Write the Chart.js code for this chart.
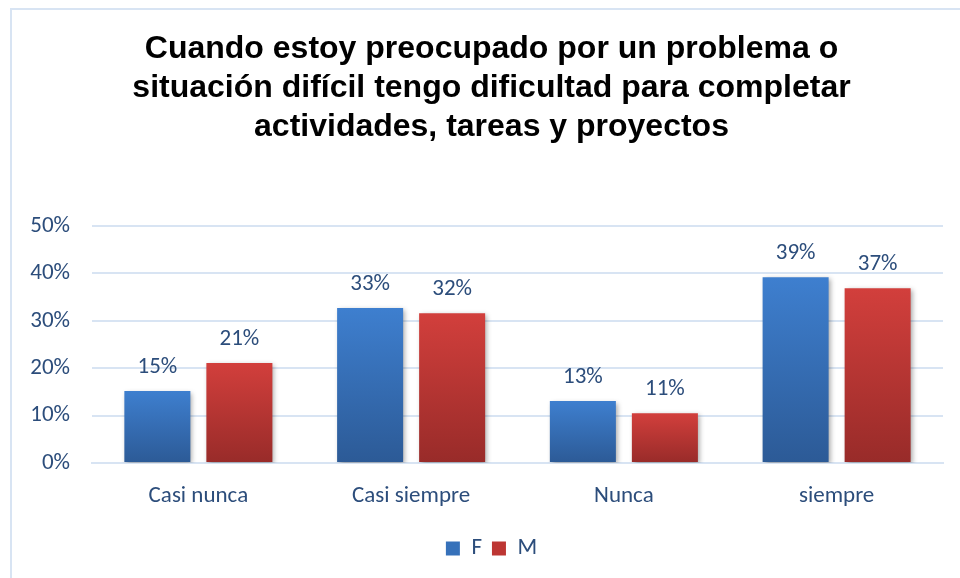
<!DOCTYPE html>
<html>
<head>
<meta charset="utf-8">
<script src="https://cdn.jsdelivr.net/npm/chart.js@4"></script>
<style>
html,body{margin:0;padding:0;background:#fff;}
#wrap{position:relative;width:960px;height:578px;overflow:hidden;}
#frame{position:absolute;left:10px;top:8px;width:980px;height:600px;border:2px solid #D8E4F3;box-sizing:border-box;}
canvas{position:absolute;left:0;top:0;}
</style>
</head>
<body>
<div id="wrap"><div id="frame"></div><canvas id="c" width="960" height="578"></canvas></div>
<script>
const titleLines = ['Cuando estoy preocupado por un problema o', 'situación difícil tengo dificultad para completar', 'actividades, tareas y proyectos'];
const categories = ['Casi nunca', 'Casi siempre', 'Nunca', 'siempre'];
const seriesF = [15.2, 32.7, 13.1, 39.2];
const seriesM = [21.1, 31.6, 10.5, 36.9];
const seriesNames = ['F', 'M'];
const yTicks = [0, 10, 20, 30, 40, 50];

const TXT = '#2C4D7B';
const FONT = 'Carlito, Calibri, Lato, sans-serif';
const FS = 23;

function grad(top, bottom) {
  return function(ctx) {
    const chart = ctx.chart;
    if (!chart.chartArea || ctx.dataIndex === undefined) return top;
    const y = chart.scales.y;
    const v = ctx.dataset.data[ctx.dataIndex];
    const y0 = y.getPixelForValue(v), y1 = y.getPixelForValue(0);
    const g = chart.ctx.createLinearGradient(0, y0, 0, y1);
    g.addColorStop(0, top);
    g.addColorStop(1, bottom);
    return g;
  };
}

const noClipPlugin = {
  id: 'noclip',
  beforeDraw(chart) {
    if (chart.scales.y) chart.scales.y._computeLabelArea = () => undefined;
  }
};

const shadowPlugin = {
  id: 'shadow',
  beforeDatasetDraw(chart) {
    const c = chart.ctx; c.save();
    c.shadowColor = 'rgba(0,0,0,0.35)';
    c.shadowBlur = 5; c.shadowOffsetX = 2; c.shadowOffsetY = 2;
  },
  afterDatasetDraw(chart) { chart.ctx.restore(); }
};

const labelPlugin = {
  id: 'vlabels',
  afterDatasetsDraw(chart) {
    const c = chart.ctx;
    c.save();
    c.font = FS + 'px ' + FONT;
    c.fillStyle = TXT;
    c.textAlign = 'center';
    c.textBaseline = 'middle';
    chart.data.datasets.forEach((ds, i) => {
      chart.getDatasetMeta(i).data.forEach((el, j) => {
        c.fillText(Math.round(ds.data[j]) + '%', el.x, el.y - 24);
      });
    });
    c.restore();
  }
};

new Chart(document.getElementById('c'), {
  type: 'bar',
  data: {
    labels: categories,
    datasets: [
      { label: seriesNames[0], data: seriesF, backgroundColor: grad('#3E7FCF', '#2C5A96') },
      { label: seriesNames[1], data: seriesM, backgroundColor: grad('#D23F3C', '#982B29') }
    ]
  },
  options: {
    responsive: false,
    animation: false,
    devicePixelRatio: 1,
    layout: { padding: { left: 40, right: 17, top: 20, bottom: 8 } },
    datasets: { bar: { categoryPercentage: 0.771, barPercentage: 0.805 } },
    plugins: {
      title: {
        display: true,
        text: titleLines,
        color: '#000',
        font: { family: '"Liberation Sans", Arial, sans-serif', size: 32, weight: 'bold', lineHeight: 1.22 },
        padding: { top: 10, bottom: 79 }
      },
      legend: {
        position: 'bottom',
        labels: {
          color: TXT,
          font: { family: FONT, size: FS },
          boxWidth: 14, boxHeight: 14, padding: 10,
          generateLabels(chart) {
            return chart.data.datasets.map((d, i) => ({
              text: d.label,
              fillStyle: i === 0 ? '#3671BA' : '#BD3633',
              strokeStyle: 'transparent', lineWidth: 0,
              datasetIndex: i, fontColor: TXT
            }));
          }
        }
      },
      tooltip: { enabled: false }
    },
    scales: {
      x: {
        grid: { display: false, drawTicks: false },
        border: { display: true, color: '#D8E4F3', width: 2 },
        ticks: { color: TXT, font: { family: FONT, size: FS }, padding: 19 },
        afterFit(s) { s.height = 64; }
      },
      y: {
        min: 0, max: 50,
        afterBuildTicks(s) { s.ticks = yTicks.map(v => ({ value: v })); },
        grid: { color: '#D8E4F3', lineWidth: 2, drawTicks: false },
        border: { display: false },
        ticks: { color: TXT, font: { family: FONT, size: FS }, padding: 22, callback: v => v + '%' },
        afterFit(s) { s.width = 52; }
      }
    }
  },
  plugins: [noClipPlugin, shadowPlugin, labelPlugin]
});
</script>
</body>
</html>
